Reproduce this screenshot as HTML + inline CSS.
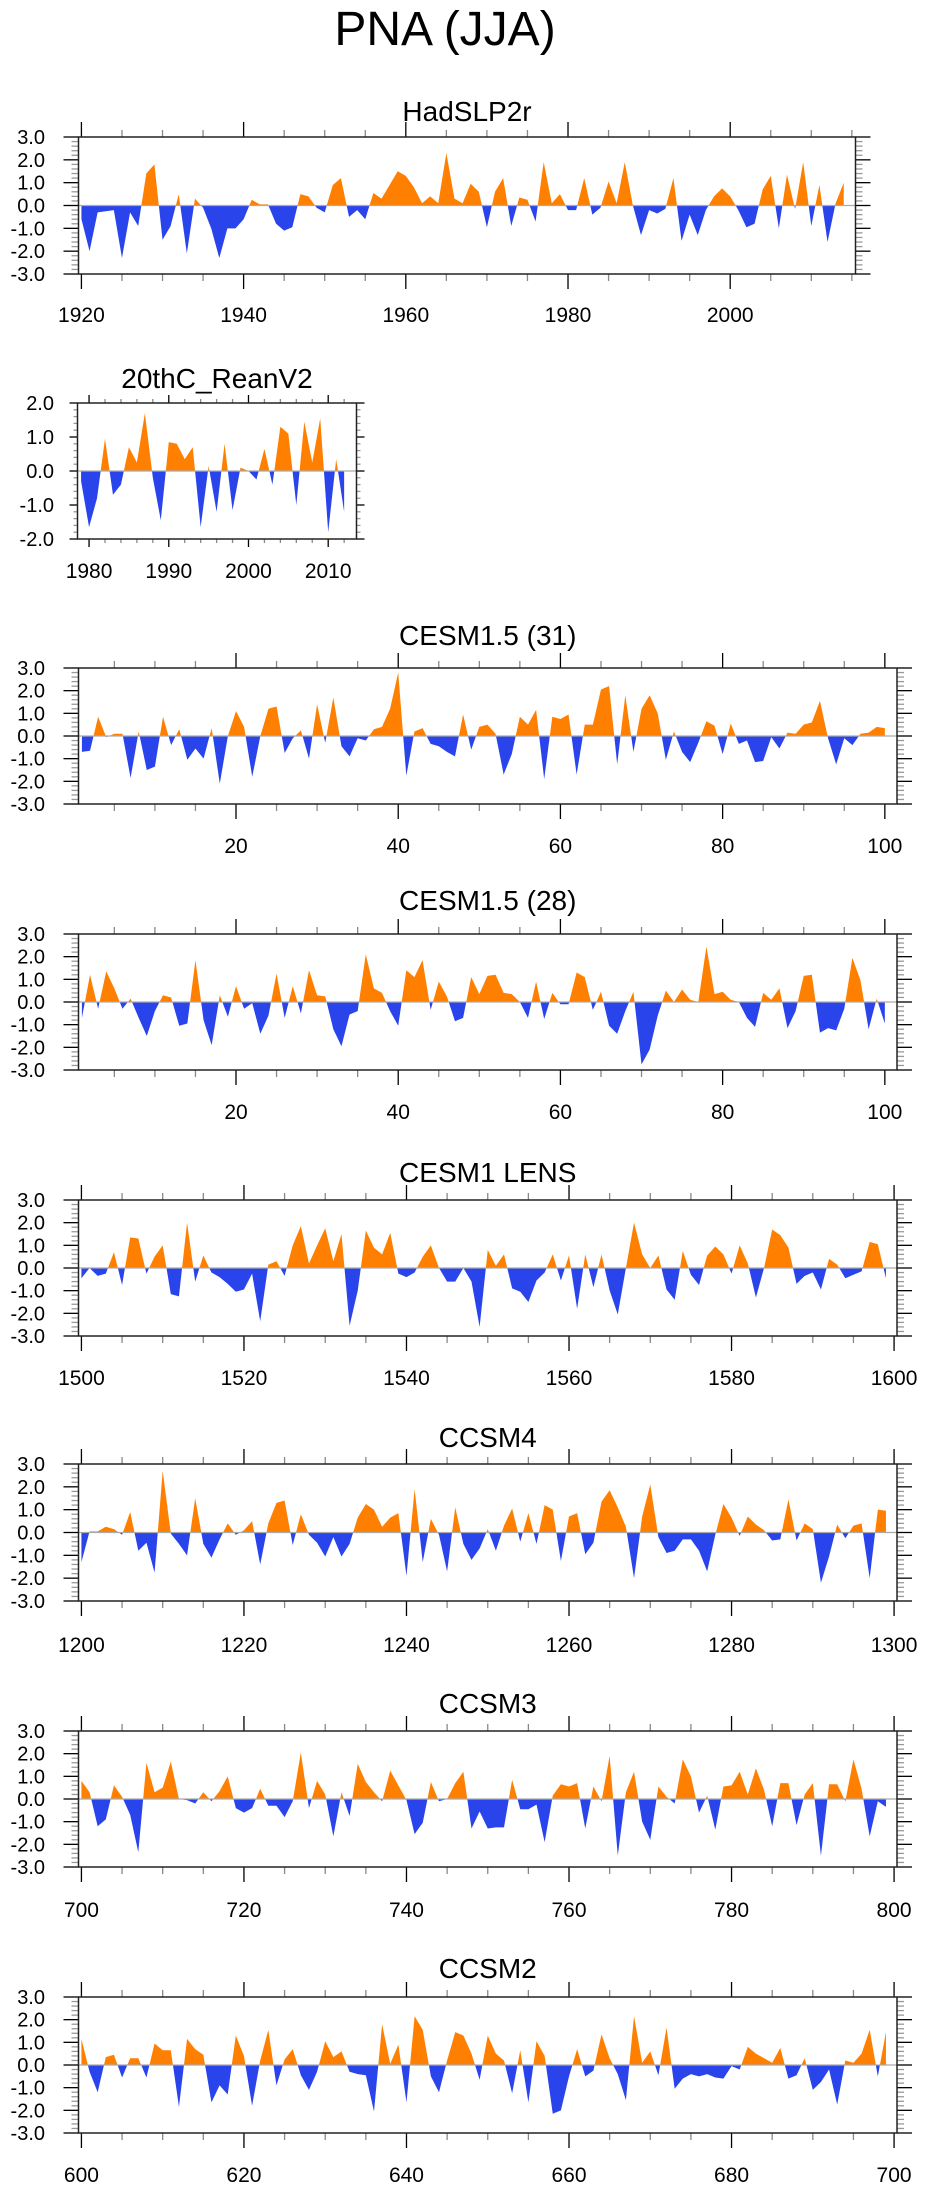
<!DOCTYPE html>
<html><head><meta charset="utf-8"><title>PNA (JJA)</title>
<style>
html,body{margin:0;padding:0;background:#fff;}
svg{display:block;}
text{font-family:"Liberation Sans",Arial,sans-serif;fill:#000;}
</style></head>
<body>
<svg id="chart" width="925" height="2190" viewBox="0 0 925 2190" xmlns="http://www.w3.org/2000/svg">
<text x="445" y="45" font-size="48" text-anchor="middle">PNA (JJA)</text>
</svg>
<script>
// ---- data (one value per year / model year) ----
const hadStart = 1920;
const hadVals = [-0.6,-2.0,-0.3,-0.25,-0.2,-2.3,-0.3,-0.9,1.4,1.8,-1.5,-0.9,0.5,-2.1,0.3,-0.1,-1.0,-2.3,-1.0,-1.0,
-0.6,0.25,0.05,0.05,-0.8,-1.1,-0.95,0.5,0.4,-0.1,-0.3,0.9,1.2,-0.5,-0.2,-0.6,0.55,0.3,0.9,1.5,
1.3,0.8,0.1,0.4,0.1,2.3,0.3,0.1,0.95,0.6,-0.95,0.6,1.2,-0.9,0.35,0.25,-0.7,1.9,0.1,0.5,
-0.2,-0.2,1.2,-0.4,-0.1,1.05,0.1,1.9,0.0,-1.3,-0.2,-0.35,-0.15,1.2,-1.55,-0.4,-1.3,-0.2,0.4,0.75,
0.4,-0.2,-0.95,-0.8,0.7,1.3,-1.0,1.35,-0.15,1.9,-0.9,0.9,-1.6,0.1,1.0];
const reanStart = 1979;
const reanVals = [-0.3,-1.65,-0.8,0.95,-0.7,-0.4,0.7,0.25,1.7,-0.2,-1.45,0.85,0.8,0.35,0.7,-1.65,0.15,-1.2,0.8,-1.15,
0.1,0.0,-0.25,0.65,-0.4,1.3,1.1,-1.0,1.45,0.25,1.55,-1.8,0.35,-1.2];
const cesm31Start = 1;
const cesm31Vals = [-0.7,-0.65,0.85,-0.05,0.1,0.1,-1.85,0.2,-1.5,-1.35,0.85,-0.4,0.3,-1.05,-0.55,-1.0,0.35,-2.1,0.0,1.1,
0.4,-1.8,0.0,1.2,1.3,-0.75,-0.1,0.25,-1.0,1.4,-0.3,1.7,-0.45,-0.9,-0.1,-0.2,0.3,0.4,1.2,2.8,
-1.75,0.2,0.35,-0.35,-0.45,-0.7,-0.9,0.95,-0.6,0.4,0.5,0.1,-1.7,-0.8,0.85,0.5,1.15,-1.9,0.85,0.75,
0.95,-1.7,0.5,0.5,2.05,2.2,-1.25,1.8,-0.7,1.2,1.8,1.0,-1.05,0.2,-0.7,-1.15,-0.3,0.65,0.45,-0.8,
0.55,-0.35,-0.2,-1.15,-1.1,-0.05,-0.55,0.15,0.1,0.5,0.6,1.55,-0.1,-1.25,-0.1,-0.4,0.1,0.15,0.4,0.35];
const cesm28Start = 1;
const cesm28Vals = [-0.7,1.2,-0.3,1.35,0.6,-0.3,0.15,-0.7,-1.5,-0.4,0.3,0.2,-1.05,-0.95,1.85,-0.8,-1.9,0.3,-0.65,0.7,
-0.3,-0.05,-1.4,-0.6,1.25,-0.7,0.7,-0.5,1.4,0.3,0.25,-1.2,-1.95,-0.55,-0.4,2.1,0.6,0.4,-0.4,-1.05,
1.4,1.1,1.85,-0.35,0.9,0.25,-0.85,-0.7,1.1,0.35,1.15,1.2,0.4,0.35,0.0,-0.7,0.9,-0.75,0.4,-0.1,
-0.1,1.3,1.1,-0.35,0.45,-1.05,-1.4,-0.4,0.45,-2.75,-2.1,-0.6,0.5,0.0,0.55,0.1,0.0,2.45,0.35,0.45,
0.1,0.0,-0.7,-1.1,0.4,0.1,0.6,-1.15,-0.4,1.15,1.2,-1.35,-1.15,-1.25,-0.3,1.95,0.95,-1.2,0.15,-0.95];
const lensStart = 1500;
const lensVals = [-0.45,0.0,-0.35,-0.25,0.7,-0.75,1.35,1.3,-0.25,0.5,1.0,-1.15,-1.25,2.0,-0.6,0.55,-0.2,-0.4,-0.7,-1.05,
-0.95,-0.25,-2.35,0.15,0.3,-0.35,1.0,1.85,0.2,1.0,1.75,0.3,1.5,-2.55,-1.0,1.65,0.9,0.6,1.55,-0.25,
-0.4,-0.2,0.5,1.0,0.0,-0.6,-0.6,0.0,-0.6,-2.6,0.8,0.1,0.6,-0.9,-1.05,-1.5,-0.55,-0.2,0.6,-0.55,
0.55,-1.8,0.6,-0.85,0.6,-1.0,-2.05,0.0,2.0,0.6,0.0,0.55,-0.95,-1.4,0.75,-0.3,-0.75,0.55,0.95,0.6,
-0.25,1.0,0.2,-1.3,0.0,1.7,1.45,0.9,-0.7,-0.35,-0.2,-0.95,0.4,0.15,-0.45,-0.3,-0.15,1.15,1.05,-0.45];
const ccsm4Start = 1200;
const ccsm4Vals = [-1.3,0.05,0.05,0.25,0.15,-0.1,0.9,-0.8,-0.45,-1.75,2.7,-0.05,-0.5,-1.0,1.5,-0.5,-1.1,-0.3,0.4,-0.1,
0.1,0.5,-1.4,0.4,1.3,1.4,-0.55,0.8,-0.1,-0.45,-1.05,-0.2,-1.05,-0.5,0.65,1.25,1.0,0.25,0.65,0.85,
-1.9,1.9,-1.3,0.6,-0.1,-1.7,1.1,-0.5,-1.2,-0.7,0.15,-0.8,0.3,1.05,-0.4,0.85,-0.5,1.2,1.0,-1.25,
0.7,0.85,-0.95,-0.45,1.35,1.85,1.1,0.25,-2.0,0.7,2.1,-0.2,-0.9,-0.8,-0.3,-0.3,-0.8,-1.7,-0.1,1.25,
0.65,-0.15,0.7,0.35,0.1,-0.35,-0.3,1.45,-0.35,0.4,0.15,-2.2,-1.05,0.35,-0.25,0.3,0.4,-2.0,1.0,0.95];
const ccsm3Start = 700;
const ccsm3Vals = [0.8,0.3,-1.2,-0.9,0.6,0.1,-0.7,-2.35,1.6,0.3,0.5,1.65,0.0,-0.05,-0.2,0.3,-0.1,0.35,1.0,-0.4,
-0.6,-0.4,0.45,-0.3,-0.3,-0.8,-0.1,2.05,-0.4,0.8,0.2,-1.65,0.3,-0.75,1.55,0.75,0.3,-0.1,1.25,0.6,
-0.05,-1.55,-1.05,0.75,-0.1,0.0,0.7,1.2,-1.3,-0.55,-1.3,-1.25,-1.25,0.85,-0.45,-0.45,-0.25,-1.9,0.15,0.65,
0.55,0.7,-1.3,0.55,-0.1,1.9,-2.5,0.3,1.2,-1.0,-1.8,0.55,0.1,-0.2,1.75,1.0,-0.6,0.15,-1.35,0.55,
0.6,1.2,0.2,1.35,0.4,-1.2,0.7,0.7,-1.15,0.2,0.7,-2.5,0.65,0.65,-0.1,1.75,0.45,-1.65,-0.1,-0.35];
const ccsm2Start = 600;
const ccsm2Vals = [1.15,-0.3,-1.2,0.35,0.45,-0.55,0.3,0.3,-0.55,0.95,0.65,0.65,-1.85,1.15,0.7,0.45,-1.65,-0.9,-1.3,1.3,
0.4,-1.8,0.2,1.55,-0.9,0.25,0.7,-0.45,-1.1,-0.3,1.05,0.35,0.6,-0.3,-0.4,-0.45,-2.05,1.8,0.05,0.9,
-1.65,2.15,1.55,-0.5,-1.2,0.2,1.45,1.3,0.5,-0.65,1.3,0.5,0.2,-1.25,0.65,-1.65,1.05,0.4,-2.15,-2.0,
-0.5,0.7,-0.5,-0.25,1.35,0.3,-0.4,-1.55,2.15,0.1,0.6,-0.45,1.65,-1.05,-0.6,-0.4,-0.5,-0.4,-0.55,-0.6,
-0.05,-0.2,0.8,0.5,0.3,0.1,0.75,-0.6,-0.45,0.3,-1.1,-0.75,-0.2,-1.75,0.2,0.1,0.5,1.55,-0.5,1.45];

const p1Ticks = [1920,1940,1960,1980,2000];
const p2Ticks = [1980,1990,2000,2010];
const p34Ticks = [20,40,60,80,100];
const lensTicks = [1500,1520,1540,1560,1580,1600];
const ccsm4Ticks = [1200,1220,1240,1260,1280,1300];
const ccsm3Ticks = [700,720,740,760,780,800];
const ccsm2Ticks = [600,620,640,660,680,700];
const yTicks3 = [-3,-2,-1,0,1,2,3];
const yTicks2 = [-2,-1,0,1,2];

// ---- layout ----
const SVGNS = "http://www.w3.org/2000/svg";
const svg = document.getElementById('chart');
const ORANGE = "#FF8000", BLUE = "#2A44EC";

const panels = [
 {id:'hadslp2r', title:'HadSLP2r', start:hadStart, vals:hadVals, ticks:p1Ticks, top:137, h:137, left:78.5, right:855.5, xmin:1919.64, xmax:2015.45, ymax:3, yt:yTicks3, minorX:5, tb:121, lb:322, tick:15, mt:7, labR:45},
 {id:'20thc-reanv2', title:'20thC_ReanV2', start:reanStart, vals:reanVals, ticks:p2Ticks, top:403, h:136, left:77.5, right:356.5, xmin:1978.55, xmax:2013.55, ymax:2, yt:yTicks2, minorX:2, tb:388, lb:578, tick:8, mt:4, labR:54},
 {id:'cesm15-31', title:'CESM1.5 (31)', start:cesm31Start, vals:cesm31Vals, ticks:p34Ticks, top:668, h:136, left:78.5, right:897, xmin:0.58, xmax:101.5, ymax:3, yt:yTicks3, minorX:5, tb:645, lb:853, tick:15, mt:7, labR:45},
 {id:'cesm15-28', title:'CESM1.5 (28)', start:cesm28Start, vals:cesm28Vals, ticks:p34Ticks, top:934, h:136, left:78.5, right:897, xmin:0.58, xmax:101.5, ymax:3, yt:yTicks3, minorX:5, tb:910, lb:1119, tick:15, mt:7, labR:45},
 {id:'cesm1-lens', title:'CESM1 LENS', start:lensStart, vals:lensVals, ticks:lensTicks, top:1200, h:136, left:78.5, right:897, xmin:1499.64, xmax:1600.36, ymax:3, yt:yTicks3, minorX:5, tb:1182, lb:1385, tick:15, mt:7, labR:45},
 {id:'ccsm4', title:'CCSM4', start:ccsm4Start, vals:ccsm4Vals, ticks:ccsm4Ticks, top:1464, h:137, left:78.5, right:897, xmin:1199.64, xmax:1300.36, ymax:3, yt:yTicks3, minorX:5, tb:1447, lb:1652, tick:15, mt:7, labR:45},
 {id:'ccsm3', title:'CCSM3', start:ccsm3Start, vals:ccsm3Vals, ticks:ccsm3Ticks, top:1731, h:136, left:78.5, right:897, xmin:699.64, xmax:800.36, ymax:3, yt:yTicks3, minorX:5, tb:1713, lb:1917, tick:15, mt:7, labR:45},
 {id:'ccsm2', title:'CCSM2', start:ccsm2Start, vals:ccsm2Vals, ticks:ccsm2Ticks, top:1997, h:136, left:78.5, right:897, xmin:599.64, xmax:700.36, ymax:3, yt:yTicks3, minorX:5, tb:1978, lb:2182, tick:15, mt:7, labR:45}
];

function mk(tag, attrs, parent){
  const e = document.createElementNS(SVGNS, tag);
  for (const k in attrs) e.setAttribute(k, attrs[k]);
  (parent||svg).appendChild(e);
  return e;
}

panels.forEach(function(p, pi){
  const g = mk('g', {});
  
  
  const xs = function(v){ return p.left + (v - p.xmin) / (p.xmax - p.xmin) * (p.right - p.left); };
  const ys = function(v){ return p.top + (p.ymax - v) / (2*p.ymax) * p.h; };
  const bottom = p.top + p.h;
  const y0 = ys(0);

  // title
  const t = mk('text', {x:(p.left+p.right)/2, y:p.tb, 'font-size':28, 'text-anchor':'middle'}, g);
  t.textContent = p.title;
  
  

  // clip paths
  const defs = mk('defs', {}, g);
  const cpU = mk('clipPath', {id:'up'+pi}, defs);
  mk('rect', {x:p.left, y:p.top, width:p.right-p.left, height:y0-p.top}, cpU);
  const cpD = mk('clipPath', {id:'dn'+pi}, defs);
  mk('rect', {x:p.left, y:y0, width:p.right-p.left, height:bottom-y0}, cpD);

  // area path from data
  let d = 'M' + xs(p.start).toFixed(2) + ',' + y0.toFixed(2);
  p.vals.forEach(function(v, i){
    d += ' L' + xs(p.start + i).toFixed(2) + ',' + ys(v).toFixed(2);
  });
  d += ' L' + xs(p.start + p.vals.length - 1).toFixed(2) + ',' + y0.toFixed(2) + ' Z';
  const pos = mk('path', {d:d, fill:ORANGE, 'clip-path':'url(#up'+pi+')'}, g);
  
  
  const neg = mk('path', {d:d, fill:BLUE, 'clip-path':'url(#dn'+pi+')'}, g);
  
  

  // zero line
  const zl = mk('line', {x1:p.left, x2:p.right, y1:y0, y2:y0, stroke:'#aaaaaa', 'stroke-width':1.2}, g);
  
  

  // x ticks
  const firstMinor = Math.ceil(p.xmin / p.minorX) * p.minorX;
  for (let v = firstMinor; v <= p.xmax; v += p.minorX) {
    const isMajor = p.ticks.indexOf(v) >= 0;
    const len = isMajor ? p.tick : p.mt;
    const col = isMajor ? '#000' : '#888';
    mk('line', {x1:xs(v), x2:xs(v), y1:p.top, y2:p.top-len, stroke:col, 'stroke-width':1.3}, g);
    mk('line', {x1:xs(v), x2:xs(v), y1:bottom, y2:bottom+len, stroke:col, 'stroke-width':1.3}, g);
  }
  p.ticks.forEach(function(v){
    const lab = mk('text', {x:xs(v), y:p.lb, 'font-size':21, 'text-anchor':'middle'}, g);
    lab.textContent = String(v);
    
    
  });

  // y ticks
  for (let k = -p.ymax*5; k <= p.ymax*5; k++) {
    const v = k/5, yy = ys(v);
    const isMajor = (k % 5 === 0);
    const len = isMajor ? p.tick : p.mt;
    const col = isMajor ? '#000' : '#999';
    mk('line', {x1:p.left, x2:p.left-len, y1:yy, y2:yy, stroke:col, 'stroke-width':1.3}, g);
    mk('line', {x1:p.right, x2:p.right+len, y1:yy, y2:yy, stroke:col, 'stroke-width':1.3}, g);
  }
  p.yt.forEach(function(v){
    const lab = mk('text', {x:p.labR, y:ys(v)+7, 'font-size':20, 'text-anchor':'end'}, g);
    lab.textContent = v.toFixed(1);
    
    
  });

  // frame
  const fr = mk('rect', {x:p.left, y:p.top, width:p.right-p.left, height:p.h, fill:'none', stroke:'#222', 'stroke-width':1.5}, g);
  
  
});
</script>
</body></html>
